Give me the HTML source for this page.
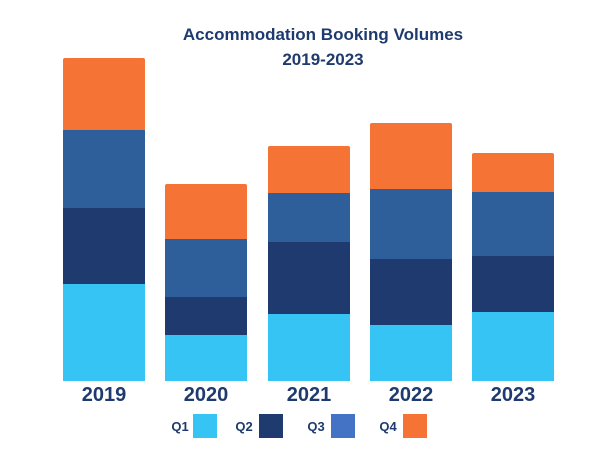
<!DOCTYPE html>
<html><head><meta charset="utf-8"><style>
body{margin:0;background:#fff;}
svg{display:block;font-family:"Liberation Sans",sans-serif;font-weight:bold;}
</style></head><body>
<svg width="600" height="450" viewBox="0 0 600 450">
<text x="323" y="40" text-anchor="middle" font-size="17" fill="#1f3a6e">Accommodation Booking Volumes</text>
<text x="323" y="65" text-anchor="middle" font-size="17" fill="#1f3a6e">2019-2023</text>
<g>
<!-- 2019 -->
<rect x="63" y="58" width="82" height="73" rx="2" fill="#f47335"/>
<rect x="63" y="130" width="82" height="78" fill="#2e5f9b"/>
<rect x="63" y="208" width="82" height="76" fill="#1f3a6e"/>
<rect x="63" y="284" width="82" height="97" fill="#35c4f3"/>
<!-- 2020 -->
<rect x="165" y="184" width="82" height="56" rx="2" fill="#f47335"/>
<rect x="165" y="239" width="82" height="58" fill="#2e5f9b"/>
<rect x="165" y="297" width="82" height="38" fill="#1f3a6e"/>
<rect x="165" y="335" width="82" height="46" fill="#35c4f3"/>
<!-- 2021 -->
<rect x="268" y="146" width="82" height="48" rx="2" fill="#f47335"/>
<rect x="268" y="193" width="82" height="49" fill="#2e5f9b"/>
<rect x="268" y="242" width="82" height="72" fill="#1f3a6e"/>
<rect x="268" y="314" width="82" height="67" fill="#35c4f3"/>
<!-- 2022 -->
<rect x="370" y="123" width="82" height="67" rx="2" fill="#f47335"/>
<rect x="370" y="189" width="82" height="70" fill="#2e5f9b"/>
<rect x="370" y="259" width="82" height="66" fill="#1f3a6e"/>
<rect x="370" y="325" width="82" height="56" fill="#35c4f3"/>
<!-- 2023 -->
<rect x="472" y="153" width="82" height="40" rx="2" fill="#f47335"/>
<rect x="472" y="192" width="82" height="64" fill="#2e5f9b"/>
<rect x="472" y="256" width="82" height="56" fill="#1f3a6e"/>
<rect x="472" y="312" width="82" height="69" fill="#35c4f3"/>
</g>
<g font-size="20" fill="#1f3a6e" text-anchor="middle">
<text x="104" y="401">2019</text>
<text x="206" y="401">2020</text>
<text x="309" y="401">2021</text>
<text x="411" y="401">2022</text>
<text x="513" y="401">2023</text>
</g>
<g font-size="13" fill="#1f3a6e" text-anchor="middle">
<text x="180" y="431">Q1</text>
<text x="244" y="431">Q2</text>
<text x="316" y="431">Q3</text>
<text x="388" y="431">Q4</text>
</g>
<rect x="193" y="414" width="24" height="24" fill="#35c4f3"/>
<rect x="259" y="414" width="24" height="24" fill="#1f3a6e"/>
<rect x="331" y="414" width="24" height="24" fill="#4472c4"/>
<rect x="403" y="414" width="24" height="24" fill="#f47335"/>
</svg>
</body></html>
